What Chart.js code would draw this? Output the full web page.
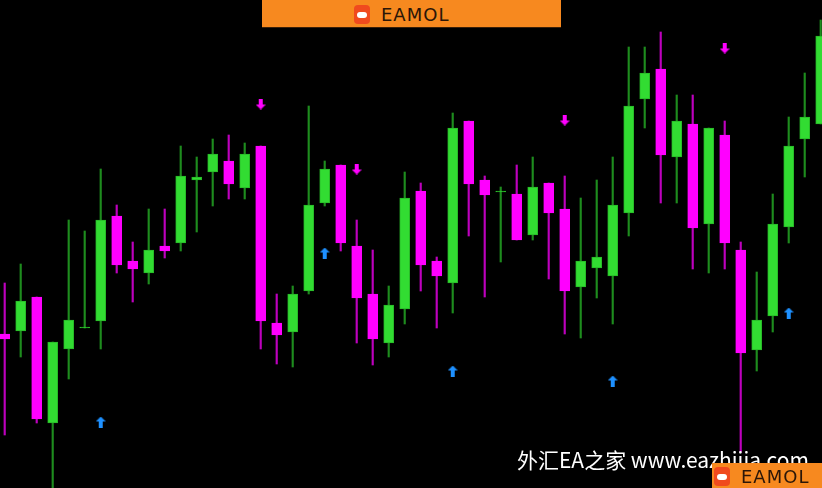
<!DOCTYPE html>
<html>
<head>
<meta charset="utf-8">
<script src="https://cdn.jsdelivr.net/npm/chart.js@4"></script>
<style>
  html, body { margin: 0; padding: 0; background: #000; overflow: hidden; }
  #wrap { position: relative; width: 822px; height: 488px; }
  #myChart { position: absolute; left: 0; top: 0; background: #000; }
  .banner { position: absolute; left: 262px; top: 0; width: 299px; height: 27px; background: #f7891f; border-bottom: 1px solid #3a2008; }
  .logo { position: absolute; display: flex; align-items: center; }
  .icon { width: 16px; height: 19px; border-radius: 4px; background: #f04a1e; position: relative; }
  .icon:after { content: ""; position: absolute; left: 3px; top: 7px; width: 10px; height: 6px; border-radius: 3px; background: #fff; }
  .logo span { font-family: "DejaVu Sans", sans-serif; font-size: 18px; letter-spacing: 1px; color: #2b1608; margin-left: 11px; }
  .wm { position: absolute; left: 517px; top: 444px; color: #fff; font-family: "Noto Sans CJK SC", sans-serif; font-size: 21px; white-space: nowrap; }
  .box { position: absolute; left: 712px; top: 463px; width: 110px; height: 25px; background: #f7891f; }
</style>
</head>
<body>
<div id="wrap">
  <canvas id="myChart" width="822" height="488"></canvas>
  <div class="banner"><div class="logo" style="left:92px;top:4px;"><div class="icon"></div><span>EAMOL</span></div></div>
  <div class="wm">外汇EA之家 www.eazhijia.com</div>
  <div class="box"><div class="logo" style="left:2px;top:3px;"><div class="icon"></div><span>EAMOL</span></div></div>
</div>
<script>
window.addEventListener('load', setup);

// bar index, open / high / low / close (price points)
var bars = [];
for (var b = 1; b <= 52; b++) bars.push(b);

var opens  = [154,157,191,65,139,160,167,272,227,215,242,245,308,316,327,300,342,165,156,197,285,323,242,194,145,179,297,227,205,367,308,296,294,253,305,279,201,220,212,275,389,419,331,364,264,353,238,138,172,261,349,364];
var highs  = [205,224,191,146,268,257,319,283,246,279,279,342,331,349,353,345,342,194,202,382,327,323,268,238,202,316,305,231,375,367,312,301,323,331,305,312,290,308,331,441,441,456,393,393,360,367,246,216,294,371,415,468];
var lows   = [53,131,65,-5,109,160,139,215,186,204,230,237,256,282,289,289,139,124,121,194,282,237,145,123,131,164,197,160,175,252,191,226,248,248,209,154,150,190,164,252,360,285,285,219,215,219,36,117,156,245,311,364];
var closes = [149,187,69,146,168,161,268,223,219,238,237,312,311,334,304,334,167,153,194,283,319,245,190,149,183,290,223,212,360,304,293,297,248,301,275,197,227,231,283,382,415,333,367,260,360,245,135,168,264,342,371,452];

// signal arrows: bar index and level
var upBars = [7, 21, 29, 39, 50];
var upLevels = [66, 235, 117, 107, 175];
var downBars = [17, 23, 36, 46];
var downLevels = [384, 319, 368, 440];

function arrowImage(color, up){
	var c = document.createElement('canvas');
	c.width = 10; c.height = 11;
	var g = c.getContext('2d');
	g.fillStyle = color;
	if (up) {
		g.beginPath(); g.moveTo(5, 0); g.lineTo(10, 5); g.lineTo(7, 5); g.lineTo(7, 11); g.lineTo(3, 11); g.lineTo(3, 5); g.lineTo(0, 5); g.closePath(); g.fill();
	} else {
		g.beginPath(); g.moveTo(5, 11); g.lineTo(10, 6); g.lineTo(7, 6); g.lineTo(7, 0); g.lineTo(3, 0); g.lineTo(3, 6); g.lineTo(0, 6); g.closePath(); g.fill();
	}
	return c;
}

function setup(){
	var bodies = [], wicks = [], bodyFill = [], bodyLine = [], wickColor = [];
	for (var i = 0; i < bars.length; i++){
		var o = opens[i], c = closes[i];
		if (o == c) c = c + 1;
		bodies.push({x: bars[i], y: [o, c]});
		wicks.push({x: bars[i], y: [lows[i], highs[i]]});
		var bull = closes[i] >= opens[i];
		bodyFill.push(bull ? "rgb(50,220,50)" : "rgb(255,0,255)");
		bodyLine.push(bull ? "rgb(40,185,40)" : "rgb(255,0,255)");
		wickColor.push(bull ? "rgb(30,140,30)" : "rgb(190,0,190)");
	}
	var ups = [], downs = [];
	for (var j = 0; j < upBars.length; j++) ups.push({x: upBars[j], y: upLevels[j]});
	for (var k = 0; k < downBars.length; k++) downs.push({x: downBars[k], y: downLevels[k]});

	var ctx = document.getElementById("myChart");
	var myChart = new Chart(ctx, {
		type: 'bar',
		data: {
			datasets: [
				{
					label: 'Up',
					type: 'line',
					data: ups,
					showLine: false,
					pointStyle: arrowImage("rgb(30,144,255)", true),
					order: 0
				}, {
					label: 'Down',
					type: 'line',
					data: downs,
					showLine: false,
					pointStyle: arrowImage("rgb(255,0,255)", false),
					order: 0
				}, {
					label: 'Body',
					data: bodies,
					backgroundColor: bodyFill,
					borderColor: bodyLine,
					borderWidth: 1,
					borderSkipped: false,
					barThickness: 10,
					grouped: false,
					order: 1
				}, {
					label: 'Wick',
					data: wicks,
					backgroundColor: wickColor,
					borderWidth: 0,
					barThickness: 1.5,
					grouped: false,
					order: 2
				}
			]
		},
		options: {
			responsive: false,
			animation: false,
			layout: { padding: 0, autoPadding: false },
			plugins: { legend: { display: false }, tooltip: { enabled: false } },
			scales: {
				x: { type: 'linear', min: 0.706, max: 52.08, display: false, offset: false },
				y: { min: 0, max: 488, display: false }
			}
		}
	});
}
</script>
</body>
</html>
